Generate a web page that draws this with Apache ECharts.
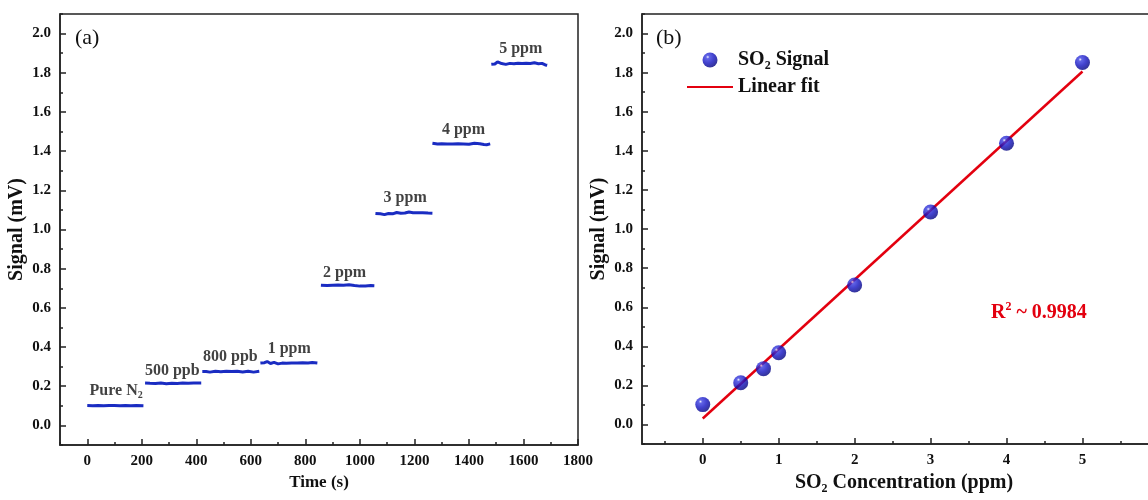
<!DOCTYPE html>
<html>
<head>
<meta charset="utf-8">
<script src="https://cdn.jsdelivr.net/npm/echarts@6/dist/echarts.min.js"></script>
<style>
  html, body { margin: 0; padding: 0; background: #fff; overflow: hidden; }
  /* 右图框超出画面右缘，容器比窗口宽一些 */
  #chart { width: 1200px; height: 500px; }
</style>
</head>
<body>
<div id="chart"></div>
<script>
// (a) 阶梯响应，各浓度段 [时间 s, 信号 mV]
const segPureN2 = [[0,0.101],[20,0.100],[40,0.101],[60,0.100],[80,0.101],[100,0.101],[120,0.100],[140,0.101],[160,0.100],[180,0.101],[206,0.100]];
const seg500ppb = [[212,0.216],[230,0.215],[250,0.214],[270,0.216],[290,0.213],[310,0.215],[330,0.214],[350,0.216],[370,0.215],[390,0.216],[418,0.216]];
const seg800ppb = [[422,0.275],[428,0.266],[436,0.275],[450,0.272],[470,0.276],[490,0.274],[510,0.277],[530,0.275],[550,0.276],[570,0.273],[590,0.276],[610,0.272],[631,0.276]];
const seg1ppm = [[635,0.318],[650,0.320],[660,0.326],[672,0.316],[685,0.322],[700,0.314],[715,0.318],[730,0.317],[750,0.319],[770,0.318],[790,0.320],[810,0.319],[825,0.321],[844,0.318]];
const seg2ppm = [[857,0.716],[880,0.714],[900,0.716],[920,0.717],[940,0.716],[960,0.718],[980,0.714],[1000,0.711],[1020,0.712],[1040,0.714],[1053,0.713]];
const seg3ppm = [[1057,1.082],[1075,1.080],[1090,1.076],[1105,1.082],[1120,1.080],[1135,1.087],[1150,1.083],[1165,1.084],[1180,1.089],[1195,1.086],[1210,1.085],[1230,1.086],[1250,1.084],[1266,1.083]];
const seg4ppm = [[1266,1.440],[1272,1.446],[1285,1.436],[1300,1.438],[1320,1.437],[1340,1.436],[1360,1.438],[1380,1.437],[1400,1.435],[1420,1.440],[1440,1.438],[1455,1.434],[1465,1.433],[1478,1.437]];
const seg5ppm = [[1482,1.843],[1495,1.845],[1505,1.856],[1520,1.847],[1535,1.843],[1550,1.848],[1565,1.846],[1580,1.849],[1595,1.847],[1610,1.849],[1625,1.847],[1640,1.851],[1655,1.846],[1668,1.848],[1680,1.840],[1687,1.838]];
const segments = [segPureN2, seg500ppb, seg800ppb, seg1ppm, seg2ppm, seg3ppm, seg4ppm, seg5ppm];

// 段标注文字（rich 片段）及位置（数据坐标）
const stepLabels = ['{n|Pure N}{s|2}', '{n|500 ppb}', '{n|800 ppb}', '{n|1 ppm}', '{n|2 ppm}', '{n|3 ppm}', '{n|4 ppm}', '{n|5 ppm}'];
const stepLabelX = [106, 312, 525, 741, 944, 1166, 1380, 1590];
const stepLabelY = [0.178, 0.280, 0.352, 0.393, 0.780, 1.163, 1.510, 1.923];

// (b) 浓度-信号
const concPpm = [0, 0.5, 0.8, 1, 2, 3, 4, 5];
const signalMv = [0.102, 0.214, 0.286, 0.367, 0.714, 1.087, 1.439, 1.852];
const fitX = [0, 5];
const fitY = [0.031, 1.806];

// 刻度
const timeTicks = [0, 200, 400, 600, 800, 1000, 1200, 1400, 1600, 1800];
const timeMinor = [-100, 100, 300, 500, 700, 900, 1100, 1300, 1500, 1700];
const concTicks = [0, 1, 2, 3, 4, 5];
const concMinor = [-0.5, 0.5, 1.5, 2.5, 3.5, 4.5, 5.5];
const sigTicks = [0, 0.2, 0.4, 0.6, 0.8, 1.0, 1.2, 1.4, 1.6, 1.8, 2.0];
const sigMinor = [-0.1, 0.1, 0.3, 0.5, 0.7, 0.9, 1.1, 1.3, 1.5, 1.7, 1.9, 2.1];

const FONT = "'Liberation Serif', 'Times New Roman', serif";
const AXIS_COLOR = '#222';
const BLUE = '#1a2cc2';
const RED = '#e3000f';

const subRich = {
  n: { fontFamily: FONT, fontWeight: 'bold', fontSize: 20, color: '#111', lineHeight: 24 },
  s: { fontFamily: FONT, fontWeight: 'bold', fontSize: 12, color: '#111', lineHeight: 12, verticalAlign: 'bottom' }
};

function mainAxis(gridIndex, min, max, ticks, isY, extra) {
  return Object.assign({
    type: 'value', gridIndex, min, max,
    axisLine: { show: true, onZero: false, lineStyle: { color: AXIS_COLOR, width: 1.5 } },
    axisTick: { show: true, inside: true, length: 6, customValues: ticks, lineStyle: { color: AXIS_COLOR, width: 1.5 } },
    axisLabel: {
      show: true, customValues: ticks, margin: 9,
      fontFamily: FONT, fontWeight: 'bold', fontSize: 15, color: '#111',
      formatter: v => isY ? v.toFixed(1) : String(v)
    },
    splitLine: { show: false },
    nameLocation: 'middle',
    nameTextStyle: { fontFamily: FONT, fontWeight: 'bold', fontSize: 20, color: '#111' }
  }, extra || {});
}

function minorAxis(gridIndex, min, max, ticks, pos) {
  return {
    type: 'value', gridIndex, min, max, position: pos,
    axisLine: { show: false, onZero: false },
    axisTick: { show: true, inside: true, length: 3, customValues: ticks, lineStyle: { color: AXIS_COLOR, width: 1.5 } },
    axisLabel: { show: false },
    splitLine: { show: false }
  };
}

const stepSeries = segments.map(seg => ({
  type: 'line', xAxisIndex: 0, yAxisIndex: 0,
  data: seg, showSymbol: false, symbol: 'none', smooth: false,
  lineStyle: { color: BLUE, width: 3 }
}));

const chart = echarts.init(document.getElementById('chart'));
chart.setOption({
  animation: false,
  backgroundColor: '#fff',
  grid: [
    { left: 60, top: 14, width: 518, height: 431, show: true, borderColor: AXIS_COLOR, borderWidth: 1.5 },
    { left: 642, top: 14, width: 524, height: 431, show: true, borderColor: AXIS_COLOR, borderWidth: 1.5 }
  ],
  xAxis: [
    mainAxis(0, -100, 1800, timeTicks, false, { position: 'bottom', name: 'Time (s)', nameGap: 25,
      nameTextStyle: { fontFamily: FONT, fontWeight: 'bold', fontSize: 17, color: '#111' } }),
    minorAxis(0, -100, 1800, timeMinor, 'bottom'),
    mainAxis(1, -0.8, 6.1, concTicks, false, { position: 'bottom', name: '{n|SO}{s|2}{n| Concentration (ppm)}', nameGap: 24,
      nameTextStyle: { rich: subRich } }),
    minorAxis(1, -0.8, 6.1, concMinor, 'bottom')
  ],
  yAxis: [
    mainAxis(0, -0.1, 2.1, sigTicks, true, { position: 'left', name: 'Signal (mV)', nameGap: 33 }),
    minorAxis(0, -0.1, 2.1, sigMinor, 'left'),
    mainAxis(1, -0.1, 2.1, sigTicks, true, { position: 'left', name: 'Signal (mV)', nameGap: 33 }),
    minorAxis(1, -0.1, 2.1, sigMinor, 'left')
  ],
  legend: {
    data: [
      { name: 'SO2 Signal' },
      { name: 'Linear fit', itemStyle: { color: 'transparent', borderColor: 'transparent', borderWidth: 0 } }
    ],
    orient: 'vertical', left: 681, top: 45,
    itemWidth: 46, itemHeight: 15, itemGap: 5,
    formatter: name => name === 'SO2 Signal' ? '{n|SO}{s|2}{n| Signal}' : '{n|Linear fit}',
    textStyle: { rich: subRich },
    selectedMode: false
  },
  series: stepSeries.concat([
    {
      type: 'scatter', xAxisIndex: 0, yAxisIndex: 0, silent: true,
      symbolSize: 1, itemStyle: { color: 'transparent' },
      data: stepLabels.map((t, i) => [stepLabelX[i], stepLabelY[i], t]),
      label: {
        show: true, position: 'inside',
        formatter: p => p.value[2],
        rich: {
          n: { fontFamily: FONT, fontWeight: 'bold', fontSize: 16, color: '#111', lineHeight: 20 },
          s: { fontFamily: FONT, fontWeight: 'bold', fontSize: 10, color: '#111', lineHeight: 10, verticalAlign: 'bottom' }
        }
      }
    },
    {
      name: 'Linear fit', type: 'line', xAxisIndex: 2, yAxisIndex: 2,
      data: fitX.map((x, i) => [x, fitY[i]]), showSymbol: false, symbol: 'none',
      lineStyle: { color: RED, width: 2.5 }, itemStyle: { color: RED }, z: 2
    },
    {
      name: 'SO2 Signal', type: 'scatter', xAxisIndex: 2, yAxisIndex: 2,
      data: concPpm.map((x, i) => [x, signalMv[i]]),
      symbol: 'circle', symbolSize: 15, z: 3,
      itemStyle: {
        color: new echarts.graphic.RadialGradient(0.35, 0.3, 0.75, [
          { offset: 0, color: '#eef0ff' },
          { offset: 0.15, color: '#3a3ee0' },
          { offset: 0.55, color: '#1212c0' },
          { offset: 1, color: '#00007a' }
        ])
      }
    }
  ]),
  graphic: [
    { type: 'text', left: 75, top: 27, style: { text: '(a)', font: "22px 'Liberation Serif', serif", fill: '#111' } },
    { type: 'text', left: 656, top: 27, style: { text: '(b)', font: "22px 'Liberation Serif', serif", fill: '#111' } },
    {
      type: 'text', left: 991, top: 301,
      style: {
        text: '{r|R}{p|2}{r| ~ 0.9984}',
        rich: {
          r: { fontFamily: FONT, fontWeight: 'bold', fontSize: 20, fill: RED, lineHeight: 24 },
          p: { fontFamily: FONT, fontWeight: 'bold', fontSize: 12, fill: RED, lineHeight: 12, verticalAlign: 'top' }
        }
      }
    }
  ]
});
</script>
</body>
</html>
